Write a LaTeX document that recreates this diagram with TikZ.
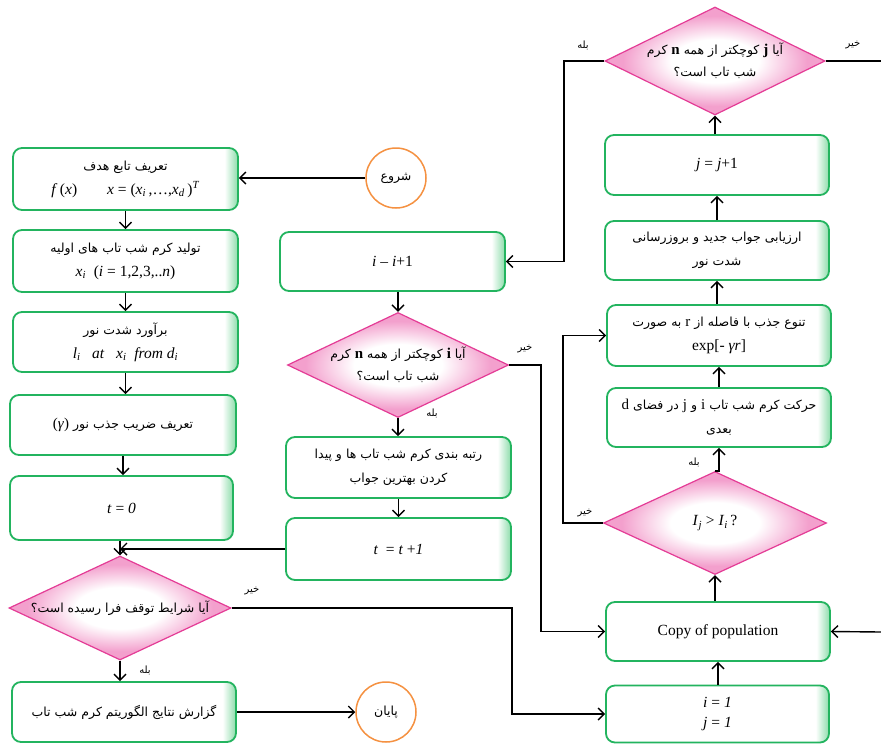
\documentclass[tikz,border=0pt]{standalone}
\usepackage{fontspec}
\setmainfont{Liberation Serif}
\newfontfamily\arabicfont[Script=Arabic]{DejaVu Sans}
\TeXXeTstate=1
\usetikzlibrary{shapes.geometric,arrows.meta}
\definecolor{boxgreen}{RGB}{35,180,95}
\definecolor{glowgreen}{RGB}{140,220,170}
\definecolor{diapink}{RGB}{228,60,150}
\definecolor{diaglowc}{RGB}{243,160,205}
\definecolor{circorange}{RGB}{245,145,65}
\pgfdeclarehorizontalshading{boxglow}{100bp}{color(0bp)=(white); color(72bp)=(white); color(75bp)=(glowgreen); color(100bp)=(glowgreen)}
\pgfdeclareradialshading{diaglow}{\pgfpoint{0bp}{0bp}}{color(0bp)=(white); color(10bp)=(white); color(21bp)=(diaglowc); color(50bp)=(diaglowc)}
\newcommand{\fa}[1]{{\arabicfont\fontsize{12.5}{24}\selectfont\beginR #1\endR}}
\newcommand{\mi}[1]{\textit{#1}}
\newcommand{\la}[1]{{\rmfamily\fontsize{15}{24}\selectfont #1}}
\tikzset{
  box/.style={rectangle, rounded corners=9pt, draw=boxgreen, line width=1.8pt, shading=boxglow, align=center, inner sep=2pt, font=\fontsize{15.5}{24}\selectfont},
  dia/.style={diamond, draw=diapink, line width=1.2pt, shading=diaglow, align=center, inner sep=0pt, shape aspect=2.1, font=\fontsize{15.5}{24}\selectfont},
  circ/.style={circle, draw=circorange, line width=1.5pt, fill=white, minimum size=60pt, inner sep=0pt},
  conn/.style={draw=black, line width=1.4pt},
  arr/.style={conn, -{Straight Barb[length=6pt,width=12pt]}},
  lbl/.style={font=\arabicfont\fontsize{10}{12}\selectfont, inner sep=1pt}
}
\begin{document}
\begin{tikzpicture}[x=1pt,y=-1pt]
\path[fill=white,use as bounding box] (0,0) rectangle (881,745);
% left column
\node[box, minimum width=225pt, minimum height=62pt] (b1) at (125.5,179) {\fa{تعریف تابع هدف}\\ \mi{f}\,(\mi{x})\hspace{30pt}\mi{x} = (\mi{x}\textsubscript{\mi{i}}\,,\ldots,\mi{x}\textsubscript{\mi{d}}\,)\textsuperscript{\mi{T}}};
\node[box, minimum width=225pt, minimum height=62pt] (b2) at (125.5,261) {\fa{تولید کرم شب تاب های اولیه}\\ \mi{x}\textsubscript{\mi{i}}\ \ (\mi{i} = 1,2,3,..\mi{n})};
\node[box, minimum width=225pt, minimum height=60pt] (b3) at (125.5,342) {\fa{برآورد شدت نور}\\ \mi{l}\textsubscript{\mi{i}}\ \ \ \mi{at}\ \ \ \mi{x}\textsubscript{\mi{i}}\ \ \mi{from}\ \mi{d}\textsubscript{\mi{i}}};
\node[box, minimum width=226pt, minimum height=60pt] (b4) at (123,425) {\fa{تعریف ضریب جذب نور \beginL\la{(\mi{γ})}\endL}};
\node[box, minimum width=223pt, minimum height=64pt] (b5) at (121.5,508) {\mi{t} = \mi{0}};
\node[dia, minimum width=222pt, minimum height=104pt] (stop) at (120,608) {\fa{آیا شرایط توقف فرا رسیده است؟}};
\node[box, minimum width=224pt, minimum height=60pt] (rep) at (124,712) {\fa{گزارش نتایج الگوریتم کرم شب تاب}};
\node[circ] (start) at (396,178) {\fa{شروع}};
\node[circ] (end) at (386,712) {\fa{پایان}};
% middle column
\node[box, minimum width=225pt, minimum height=59pt] (ii) at (392.5,261.5) {\mi{i} – \mi{i}+1};
\node[dia, minimum width=221pt, minimum height=105pt] (di) at (398,365) {\fa{آیا \la{\bfseries i} کوچکتر از همه \la{\bfseries n} کرم}\\[-2pt] \fa{شب تاب است؟}};
\node[box, minimum width=225pt, minimum height=61pt] (rank) at (398.5,467.5) {\fa{رتبه بندی کرم شب تاب ها و پیدا}\\ \fa{کردن بهترین جواب}};
\node[box, minimum width=225pt, minimum height=62pt] (tt) at (398.5,549) {\mi{t}\ \ = \mi{t} +\mi{1}};
% right column
\node[box, minimum width=223pt, minimum height=57pt] (i1) at (717.5,714) {\mi{i} = \mi{1}\\[-4pt] \mi{j} = \mi{1}};
\node[box, minimum width=224pt, minimum height=59pt] (copy) at (718,631.5) {Copy of population};
\node[dia, minimum width=223pt, minimum height=103pt] (dij) at (715,523) {\mi{I}\textsubscript{\mi{j}} > \mi{I}\textsubscript{\mi{i}}\,?};
\node[box, minimum width=224pt, minimum height=59pt] (move) at (719,417.5) {\fa{حرکت کرم شب تاب \la{i} و \la{j} در فضای \la{d}}\\ \fa{بعدی}};
\node[box, minimum width=224pt, minimum height=61pt] (div) at (719,335.5) {\fa{تنوع جذب با فاصله از \la{r} به صورت}\\ exp[- \mi{γr}]};
\node[box, minimum width=224pt, minimum height=59pt] (eval) at (717,250.5) {\fa{ارزیابی جواب جدید و بروزرسانی}\\ \fa{شدت نور}};
\node[box, minimum width=224pt, minimum height=60pt] (jj) at (717,165) {\mi{j} = \mi{j}+1};
\node[dia, minimum width=220pt, minimum height=108pt] (dj) at (715,61) {\fa{آیا \la{\bfseries j} کوچکتر از همه \la{\bfseries n} کرم}\\[-2pt] \fa{شب تاب است؟}};
\coordinate (outR) at (881,61);
\coordinate (inR) at (881,632);
% connectors
\draw[arr] (start.west) -- (start.west -| b1.east);
\draw[arr] (b1.south) -- (b1.south |- b2.north);
\draw[arr] (b2.south) -- (b2.south |- b3.north);
\draw[arr] (b3.south) -- (b3.south |- b4.north);
\draw[arr] (b4.south) -- (b4.south |- b5.north);
\draw[arr] (b5.south -| stop.north) -- (stop.north);
\draw[arr] (tt.west) -- (tt.west -| stop.north);
\draw[arr] (stop.south) -- (stop.south |- rep.north);
\draw[arr] (rep.east) -- (rep.east -| end.west);
\draw[arr] (stop.east) -- (512,608) |- (i1.west);
\draw[arr] (ii.south -| di.north) -- (di.north);
\draw[arr] (di.south) -- (di.south |- rank.north);
\draw[arr] (rank.south) -- (rank.south |- tt.north);
\draw[arr] (di.east) -- (541,365) |- (copy.west);
\draw[arr] (i1.north -| copy.south) -- (copy.south);
\draw[arr] (copy.north -| dij.south) -- (dij.south);
\draw[arr] (dij.north) -- (dij.north -| move.south) -- (move.south);
\draw[arr] (move.north) -- (move.north |- div.south);
\draw[arr] (div.north -| eval.south) -- (eval.south);
\draw[arr] (eval.north) -- (eval.north |- jj.south);
\draw[arr] (jj.north -| dj.south) -- (dj.south);
\draw[arr] (dij.west) -- (563,523) |- (div.west);
\draw[arr] (dj.west) -- (564,61) |- (ii.east);
\draw[conn] (dj.east) -- (outR);
\draw[arr] (inR) -- (copy.east);
% labels
\node[lbl] (l1) at (583,45) {\beginR بله\endR};
\node[lbl] (l2) at (853,45) {\beginR خیر\endR};
\node[lbl] (l3) at (525,349) {\beginR خیر\endR};
\node[lbl] (l4) at (432,413) {\beginR بله\endR};
\node[lbl] (l5) at (694,462) {\beginR بله\endR};
\node[lbl] (l6) at (585,513) {\beginR خیر\endR};
\node[lbl] (l7) at (252,591) {\beginR خیر\endR};
\node[lbl] (l8) at (145,670) {\beginR بله\endR};
\end{tikzpicture}
\end{document}
